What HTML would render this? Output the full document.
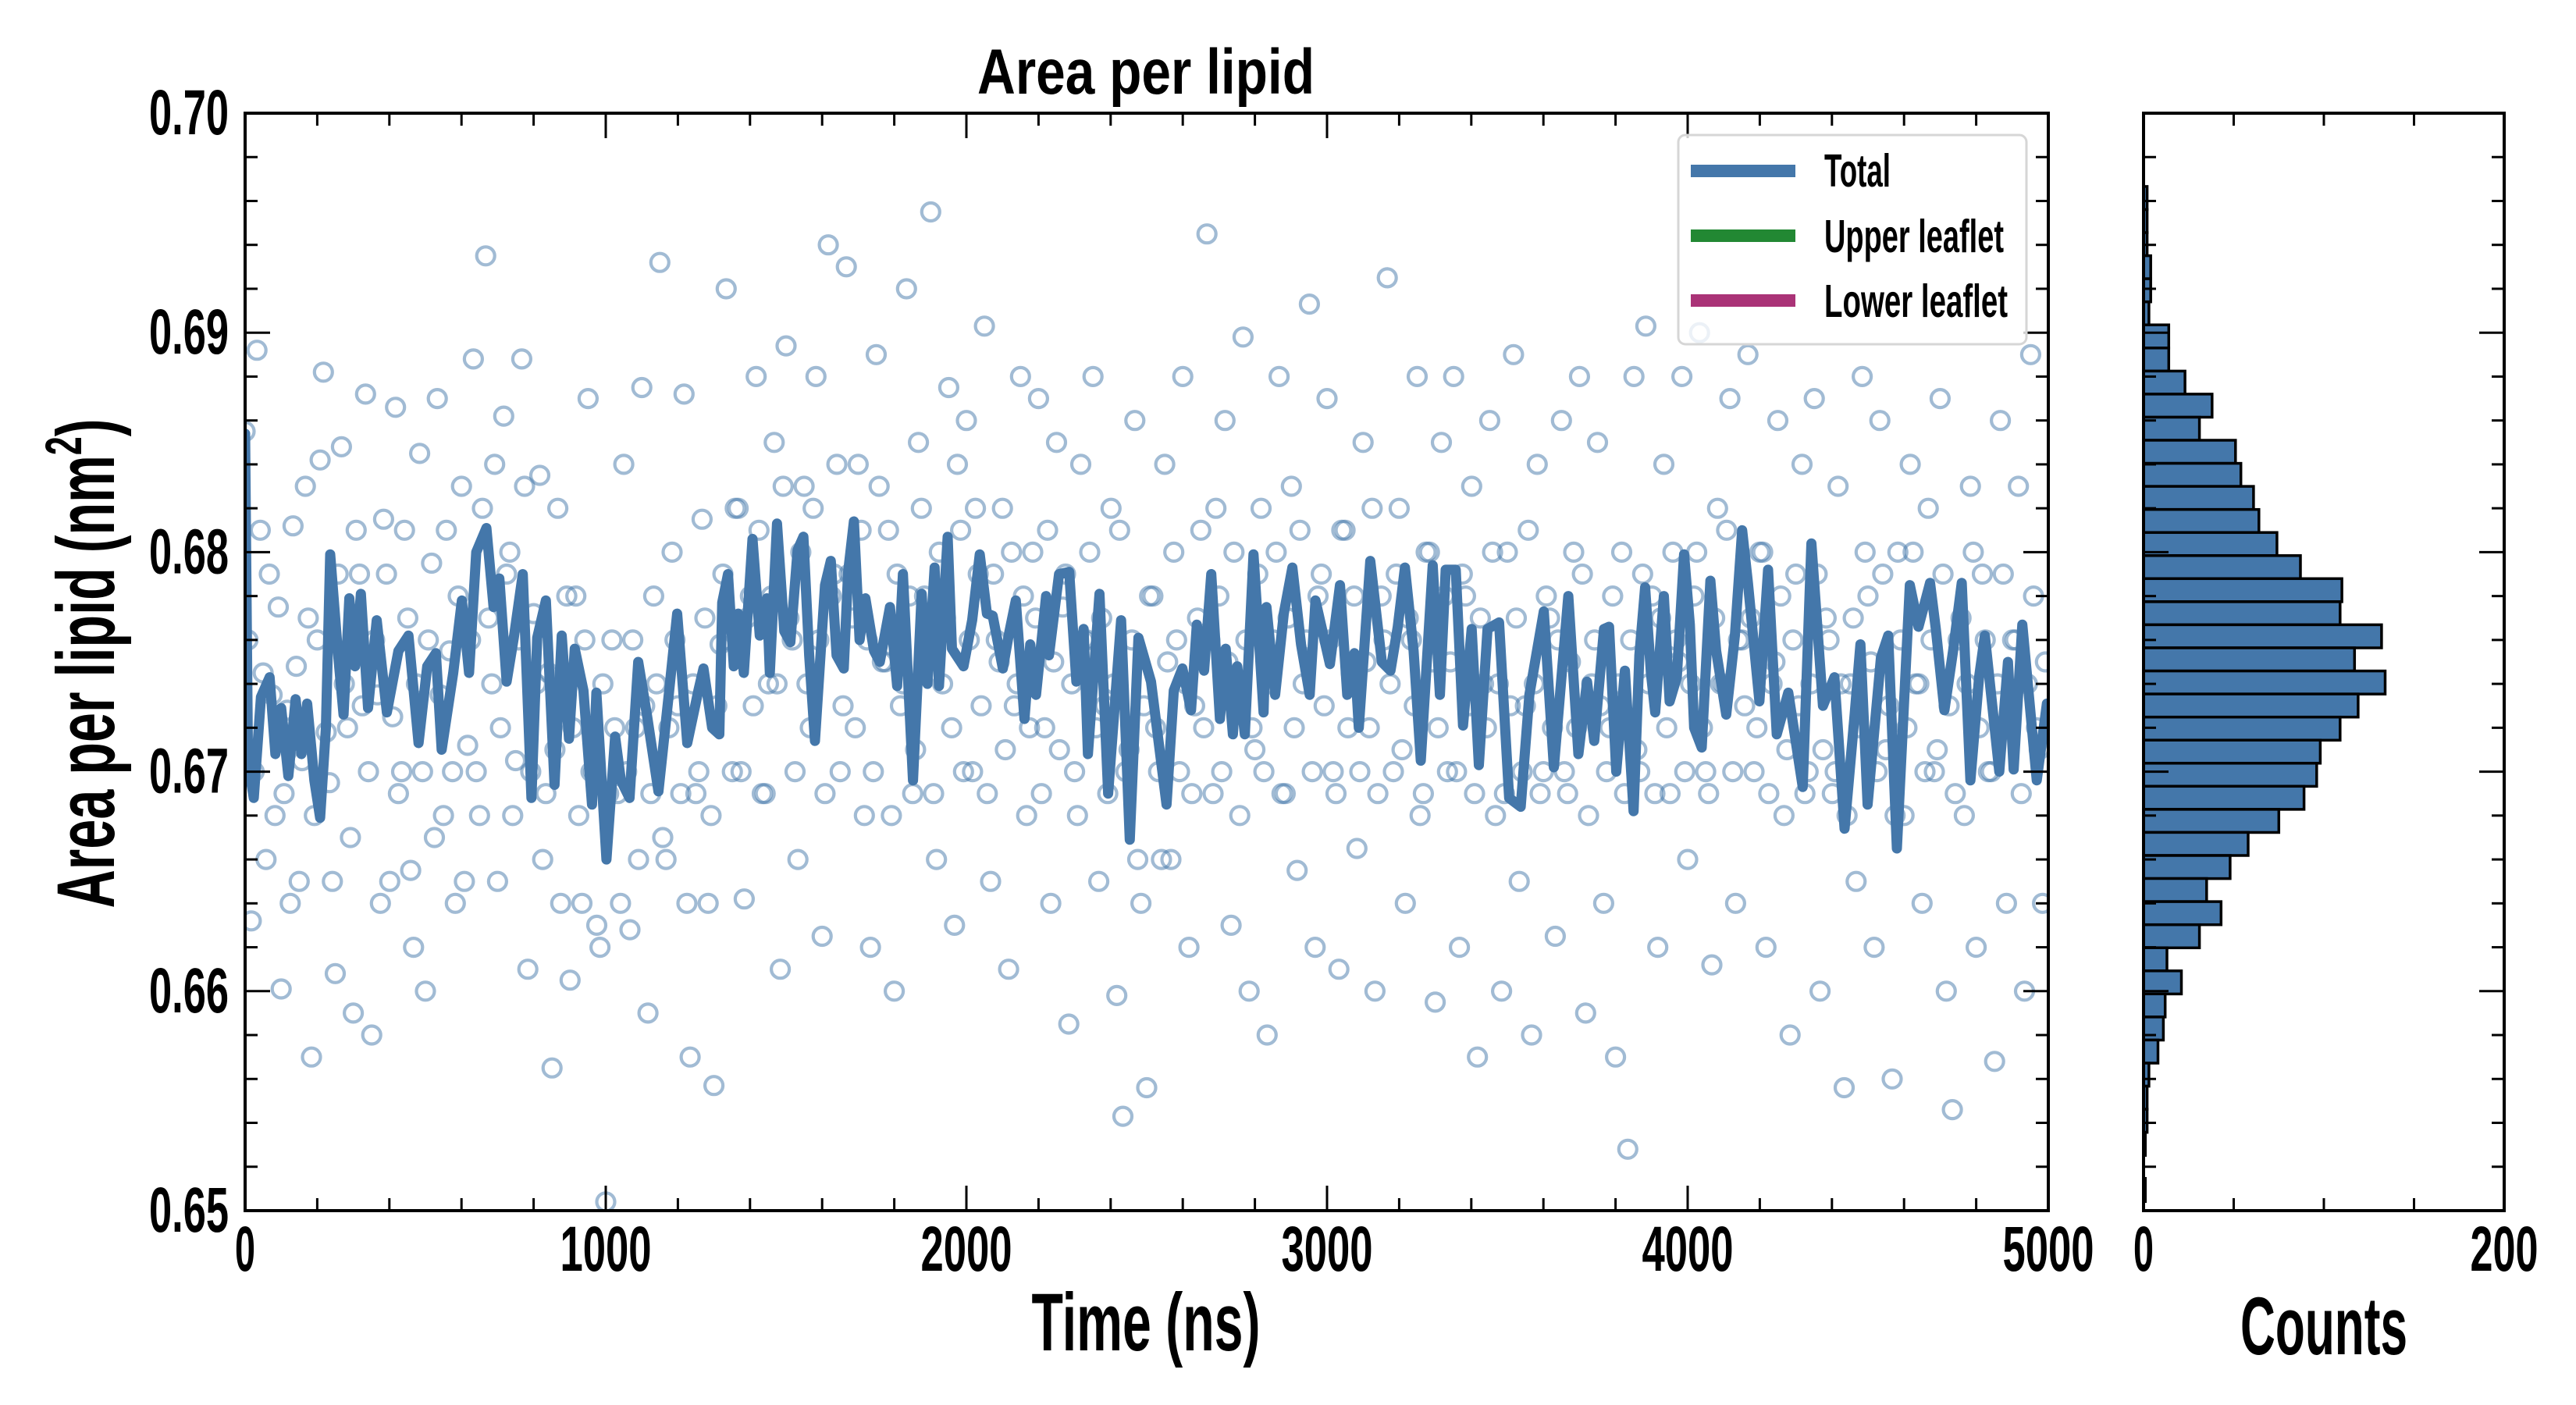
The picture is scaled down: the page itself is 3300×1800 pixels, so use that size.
<!DOCTYPE html>
<html><head><meta charset="utf-8"><title>Area per lipid</title>
<style>
html,body{margin:0;padding:0;background:#fff;}
svg{display:block;}
text{font-family:"Liberation Sans Narrow","Liberation Sans",sans-serif;font-weight:bold;fill:#000;}
</style></head>
<body>
<svg id="chart" xmlns="http://www.w3.org/2000/svg" width="3300" height="1800" viewBox="0 0 3300 1800">
  <defs>
    <clipPath id="mainClip"><rect x="314" y="145" width="2310" height="1406"/></clipPath>
  </defs>
  <rect x="0" y="0" width="3300" height="1800" fill="#fff"/>
  <g id="scatterLayer" clip-path="url(#mainClip)"></g>
  <g id="lineLayer" clip-path="url(#mainClip)"></g>
  <g id="histLayer"></g>
  <g id="axesLayer"></g>

  <text x="1468" y="120" font-size="82" text-anchor="middle" textLength="432" lengthAdjust="spacingAndGlyphs">Area per lipid</text>
  <text x="1468" y="1730" font-size="105" text-anchor="middle" textLength="293" lengthAdjust="spacingAndGlyphs">Time (ns)</text>
  <text x="2977" y="1735" font-size="105" text-anchor="middle" textLength="214" lengthAdjust="spacingAndGlyphs">Counts</text>
  <text transform="translate(146,850) rotate(-90)" x="0" y="0" font-size="105" text-anchor="middle" textLength="627" lengthAdjust="spacingAndGlyphs">Area per lipid (nm<tspan font-size="66" dy="-42">2</tspan><tspan dy="42">)</tspan></text>

  <g>
    <rect x="2150" y="173" width="446" height="268" rx="9" ry="9" fill="rgba(255,255,255,0.8)" stroke="#d6d6d6" stroke-width="3"/>
    <rect x="2166" y="211" width="134" height="16" fill="#4477AA"/>
    <text x="2337" y="239" font-size="59" textLength="85" lengthAdjust="spacingAndGlyphs">Total</text>
    <rect x="2166" y="294" width="134" height="16" fill="#228833"/>
    <text x="2337" y="323" font-size="59" textLength="230" lengthAdjust="spacingAndGlyphs">Upper leaflet</text>
    <rect x="2166" y="377" width="134" height="16" fill="#AA3377"/>
    <text x="2337" y="406" font-size="59" textLength="235" lengthAdjust="spacingAndGlyphs">Lower leaflet</text>
  </g>
</svg>
<script>
// ---------- data ----------
const lineTimes = [0,8,24,44,68,84,100,120,140,156,172,192,208,224,236,257,273,289,305,321,341,365,393,425,453,481,505,529,545,577,601,621,641,669,689,705,725,745,770,794,810,834,858,878,898,914,938,962,974,1002,1026,1042,1066,1090,1114,1146,1174,1198,1226,1257,
1271,1295,1315,1323,1339,1355,1367,1383,1407,1427,1447,1455,1475,1495,1512,1532,1548,1564,1580,1608,1624,1640,1660,1672,1688,1704,1720,1744,1760,1788,1808,1824,1852,1876,1892,1912,1924,1948,1960,1992,2016,2037,2057,2073,2101,2117,2137,2161,2177,2193,2221,2229,2257,2285,2305,2325,2337,2369,2393,2429,2453,2477,2512,
2555,2575,2599,2623,2639,2659,2679,2703,2719,2739,2751,2772,2796,2824,2832,2856,2880,2904,2928,2952,2968,3008,3036,3056,3076,3088,3120,3152,3176,3196,3216,3240,3260,3293,3313,3329,3357,3377,3401,3421,3445,3477,3505,3537,3561,3601,3629,3669,3697,3721,3741,3768,
3782,3802,3826,3850,3866,3882,3898,3910,3934,3950,3970,3990,4006,4018,4039,4063,4079,4107,4131,4151,4167,4199,4223,4247,4279,4319,4343,4375,4407,4435,4463,4479,4499,4536,4556,4580,4616,4640,4672,4688,4712,4736,4760,4784,4808,4824,4864,4888,4904,4928,4968,4996];
const lineValues = [0.6854,0.6704,0.6688,0.6734,0.6743,0.6708,0.6729,0.6698,0.6733,0.6708,0.6731,0.6696,0.6679,0.6720,0.6799,0.6755,0.6726,0.6779,0.6748,0.6781,0.6729,0.6769,0.6727,0.6755,0.6762,0.6713,0.6748,0.6754,0.6710,0.6745,0.6778,0.6745,0.6800,0.6811,0.6775,0.6788,0.6741,0.6761,0.6790,0.6688,0.6761,0.6778,0.6694,0.6762,0.6715,0.6756,0.6737,0.6685,0.6736,0.6660,0.6716,0.6696,0.6688,0.6750,0.6726,0.6691,0.6734,0.6772,0.6713,0.6737,
0.6747,0.6720,0.6717,0.6777,0.6790,0.6748,0.6772,0.6745,0.6806,0.6762,0.6779,0.6745,0.6813,0.6764,0.6759,0.6801,0.6807,0.6753,0.6714,0.6785,0.6796,0.6753,0.6747,0.6791,0.6814,0.6760,0.6779,0.6755,0.6750,0.6775,0.6739,0.6790,0.6696,0.6781,0.6740,0.6793,0.6739,0.6807,0.6756,0.6748,0.6769,0.6799,0.6772,0.6771,0.6747,0.6762,0.6778,0.6724,0.6758,0.6735,0.6780,0.6753,0.6790,0.6791,0.6741,0.6765,0.6708,0.6781,0.6690,0.6769,0.6669,0.6761,0.6741,
0.6685,0.6737,0.6747,0.6728,0.6767,0.6746,0.6790,0.6724,0.6756,0.6717,0.6748,0.6717,0.6799,0.6727,0.6775,0.6735,0.6772,0.6793,0.6758,0.6735,0.6778,0.6749,0.6785,0.6735,0.6754,0.6720,0.6796,0.6750,0.6746,0.6766,0.6793,0.6755,0.6705,0.6794,0.6735,0.6792,0.6792,0.6721,0.6765,0.6703,0.6765,0.6768,0.6688,0.6684,0.6735,0.6773,0.6702,0.6780,0.6708,0.6741,0.6714,0.6765,
0.6766,0.6700,0.6746,0.6682,0.6753,0.6784,0.6745,0.6727,0.6780,0.6732,0.6743,0.6799,0.6767,0.6720,0.6711,0.6787,0.6755,0.6726,0.6762,0.6810,0.6786,0.6732,0.6792,0.6717,0.6736,0.6693,0.6804,0.6730,0.6743,0.6674,0.6726,0.6758,0.6685,0.6752,0.6762,0.6665,0.6785,0.6766,0.6786,0.6765,0.6728,0.6755,0.6786,0.6696,0.6743,0.6762,0.6700,0.6750,0.6701,0.6767,0.6696,0.6731];

const scatterTimes = [0,17,33,50,67,83,100,117,133,150,167,184,200,217,234,250,267,284,300,317,334,351,367,384,401,417,434,451,467,484,500,517,533,550,567,583,600,617,633,650,667,684,700,717,734,750,767,784,800,817,834,851,867,884,901,917,934,951,967,984,
1000,1017,1033,1050,1067,1083,1100,1117,1133,1150,1167,1184,1200,1217,1234,1250,1267,1284,1300,1317,1334,1351,1367,1384,1401,1417,1434,1451,1467,1484,1500,1517,1533,1550,1567,1583,1600,1617,1633,1650,1667,1684,1700,1717,1734,1750,1767,1784,1800,1817,1834,1851,1867,1884,1901,1917,1934,1951,1967,1984,
2000,2017,2033,2050,2067,2083,2100,2117,2133,2150,2167,2184,2200,2217,2234,2250,2267,2284,2300,2317,2334,2351,2367,2384,2401,2417,2434,2451,2467,2484,2500,2517,2533,2550,2567,2583,2600,2617,2633,2650,2667,2684,2700,2717,2734,2750,2767,2784,2800,2817,2834,2851,2867,2884,2901,2917,2934,2951,2967,2984,
3000,3017,3033,3050,3067,3083,3100,3117,3133,3150,3167,3184,3200,3217,3234,3250,3267,3284,3300,3317,3334,3351,3367,3384,3401,3417,3434,3451,3467,3484,3500,3517,3533,3550,3567,3583,3600,3617,3633,3650,3667,3684,3700,3717,3734,3750,3767,3784,3800,3817,3834,3851,3867,3884,3901,3917,3934,3951,3967,3984,
4000,4017,4033,4050,4067,4083,4100,4117,4133,4150,4167,4184,4200,4217,4234,4250,4267,4284,4300,4317,4334,4351,4367,4384,4401,4417,4434,4451,4467,4484,4500,4517,4533,4550,4567,4583,4600,4617,4633,4650,4667,4684,4700,4717,4734,4750,4767,4784,4800,4817,4834,4851,4867,4884,4901,4917,4934,4951,4967,4984];
const scatterValues = [0.6855,0.6632,0.6892,0.6745,0.6790,0.6680,0.6601,0.6728,0.6812,0.6650,
0.6830,0.6570,0.6760,0.6882,0.6695,0.6608,0.6848,0.6720,0.6590,0.6790,
0.6872,0.6580,0.6735,0.6815,0.6650,0.6866,0.6700,0.6770,0.6620,0.6845,
0.6600,0.6795,0.6870,0.6680,0.6755,0.6640,0.6830,0.6712,0.6888,0.6680,
0.6935,0.6740,0.6650,0.6862,0.6800,0.6705,0.6888,0.6610,0.6772,0.6835,
0.6690,0.6565,0.6820,0.6745,0.6605,0.6780,0.6640,0.6870,0.6700,0.6620,
0.6504,0.6760,0.6690,0.6840,0.6628,0.6720,0.6875,0.6590,0.6780,0.6932,
0.6660,0.6800,0.6730,0.6872,0.6570,0.6690,0.6815,0.6640,0.6557,0.6758,
0.6920,0.6700,0.6820,0.6642,0.6780,0.6880,0.6690,0.6740,0.6850,0.6610,
0.6894,0.6760,0.6660,0.6830,0.6720,0.6880,0.6625,0.6940,0.6790,0.6700,
0.6930,0.6770,0.6840,0.6680,0.6620,0.6890,0.6750,0.6810,0.6600,0.6730,
0.6920,0.6690,0.6850,0.6780,0.6955,0.6660,0.6740,0.6875,0.6630,0.6810,
0.6860,0.6700,0.6790,0.6903,0.6650,0.6760,0.6820,0.6610,0.6730,0.6880,
0.6680,0.6800,0.6870,0.6720,0.6640,0.6850,0.6775,0.6585,0.6700,0.6840,
0.6760,0.6880,0.6650,0.6730,0.6820,0.6598,0.6543,0.6710,0.6860,0.6640,
0.6556,0.6780,0.6700,0.6840,0.6660,0.6760,0.6880,0.6620,0.6730,0.6810,
0.6945,0.6690,0.6780,0.6860,0.6630,0.6740,0.6898,0.6600,0.6710,0.6820,
0.6580,0.6760,0.6880,0.6690,0.6830,0.6655,0.6740,0.6913,0.6620,0.6790,
0.6870,0.6700,0.6610,0.6810,0.6745,0.6665,0.6850,0.6720,0.6600,0.6780,
0.6925,0.6700,0.6820,0.6640,0.6760,0.6880,0.6690,0.6800,0.6595,0.6850,
0.6700,0.6880,0.6620,0.6780,0.6830,0.6570,0.6740,0.6860,0.6680,0.6600,
0.6800,0.6890,0.6650,0.6730,0.6580,0.6840,0.6700,0.6770,0.6625,0.6860,
0.6690,0.6800,0.6880,0.6590,0.6740,0.6850,0.6640,0.6720,0.6570,0.6800,
0.6528,0.6880,0.6700,0.6903,0.6780,0.6620,0.6840,0.6690,0.6760,0.6880,
0.6660,0.6780,0.6900,0.6700,0.6612,0.6820,0.6740,0.6870,0.6640,0.6760,
0.6890,0.6700,0.6800,0.6620,0.6740,0.6860,0.6680,0.6580,0.6790,0.6840,
0.6700,0.6870,0.6600,0.6770,0.6690,0.6830,0.6556,0.6740,0.6650,0.6880,
0.6780,0.6620,0.6860,0.6710,0.6560,0.6800,0.6680,0.6840,0.6740,0.6640,
0.6820,0.6700,0.6870,0.6600,0.6546,0.6760,0.6680,0.6830,0.6620,0.6790,
0.6700,0.6568,0.6860,0.6640,0.6760,0.6830,0.6600,0.6890,0.6720,0.6640];

// second sampled set of raw frames (interleaved times)
const scatterTimes2 = [8,25,42,58,75,92,108,125,142,158,175,192,208,225,242,258,275,292,308,325,342,359,375,392,409,425,442,459,475,492,508,525,541,558,575,591,608,625,641,658,675,692,708,725,742,758,775,792,808,825,842,859,875,892,909,925,942,959,975,992,
1008,1025,1041,1058,1075,1091,1108,1125,1141,1158,1175,1192,1208,1225,1242,1258,1275,1292,1308,1325,1342,1359,1375,1392,1409,1425,1442,1459,1475,1492,1508,1525,1541,1558,1575,1591,1608,1625,1641,1658,1675,1692,1708,1725,1742,1758,1775,1792,1808,1825,1842,1859,1875,1892,1909,1925,1942,1959,1975,1992,
2008,2025,2041,2058,2075,2091,2108,2125,2141,2158,2175,2192,2208,2225,2242,2258,2275,2292,2308,2325,2342,2359,2375,2392,2409,2425,2442,2459,2475,2492,2508,2525,2541,2558,2575,2591,2608,2625,2641,2658,2675,2692,2708,2725,2742,2758,2775,2792,2808,2825,2842,2859,2875,2892,2909,2925,2942,2959,2975,2992,
3008,3025,3041,3058,3075,3091,3108,3125,3141,3158,3175,3192,3208,3225,3242,3258,3275,3292,3308,3325,3342,3359,3375,3392,3409,3425,3442,3459,3475,3492,3508,3525,3541,3558,3575,3591,3608,3625,3641,3658,3675,3692,3708,3725,3742,3758,3775,3792,3808,3825,3842,3859,3875,3892,3909,3925,3942,3959,3975,3992,
4008,4025,4041,4058,4075,4091,4108,4125,4141,4158,4175,4192,4208,4225,4242,4258,4275,4292,4308,4325,4342,4359,4375,4392,4409,4425,4442,4459,4475,4492,4508,4525,4541,4558,4575,4591,4608,4625,4641,4658,4675,4692,4708,4725,4742,4758,4775,4792,4808,4825,4842,4859,4875,4892,4909,4925,4942,4959,4975,4992];
const scatterValues2 = [0.6760,0.6700,0.6810,0.6660,0.6735,0.6775,0.6690,0.6640,0.6748,0.6705,
0.6770,0.6680,0.6842,0.6718,0.6650,0.6790,0.6740,0.6670,0.6810,0.6730,
0.6700,0.6760,0.6640,0.6790,0.6725,0.6690,0.6810,0.6655,0.6740,0.6700,
0.6760,0.6670,0.6735,0.6810,0.6700,0.6780,0.6650,0.6760,0.6700,0.6820,
0.6770,0.6840,0.6720,0.6790,0.6680,0.6760,0.6830,0.6700,0.6740,0.6660,
0.6745,0.6710,0.6640,0.6780,0.6720,0.6680,0.6760,0.6700,0.6630,0.6740,
0.6690,0.6720,0.6640,0.6700,0.6760,0.6660,0.6730,0.6690,0.6740,0.6670,
0.6720,0.6760,0.6690,0.6640,0.6740,0.6700,0.6770,0.6680,0.6730,0.6790,
0.6760,0.6820,0.6700,0.6770,0.6730,0.6810,0.6690,0.6780,0.6740,0.6830,
0.6770,0.6700,0.6800,0.6740,0.6820,0.6760,0.6690,0.6780,0.6840,0.6730,
0.6790,0.6720,0.6810,0.6760,0.6700,0.6830,0.6750,0.6680,0.6790,0.6740,
0.6780,0.6710,0.6820,0.6750,0.6690,0.6800,0.6770,0.6720,0.6840,0.6700,
0.6760,0.6820,0.6730,0.6690,0.6790,0.6750,0.6710,0.6800,0.6740,0.6780,
0.6720,0.6770,0.6690,0.6810,0.6750,0.6710,0.6790,0.6740,0.6680,0.6760,
0.6800,0.6720,0.6770,0.6690,0.6740,0.6810,0.6700,0.6760,0.6660,0.6730,
0.6780,0.6720,0.6660,0.6750,0.6800,0.6700,0.6740,0.6690,0.6770,0.6720,
0.6760,0.6820,0.6700,0.6750,0.6800,0.6680,0.6760,0.6720,0.6790,0.6700,
0.6740,0.6800,0.6690,0.6770,0.6720,0.6810,0.6760,0.6700,0.6780,0.6730,
0.6760,0.6690,0.6810,0.6720,0.6780,0.6700,0.6750,0.6820,0.6690,0.6760,
0.6740,0.6790,0.6710,0.6770,0.6730,0.6680,0.6800,0.6750,0.6720,0.6780,
0.6750,0.6700,0.6790,0.6730,0.6690,0.6770,0.6720,0.6800,0.6740,0.6690,
0.6730,0.6770,0.6700,0.6810,0.6740,0.6690,0.6780,0.6720,0.6760,0.6700,
0.6750,0.6720,0.6790,0.6680,0.6760,0.6730,0.6700,0.6780,0.6740,0.6690,
0.6760,0.6710,0.6790,0.6740,0.6690,0.6770,0.6720,0.6800,0.6750,0.6700,
0.6740,0.6800,0.6720,0.6690,0.6770,0.6740,0.6810,0.6700,0.6760,0.6730,
0.6770,0.6720,0.6800,0.6690,0.6750,0.6780,0.6710,0.6760,0.6730,0.6690,
0.6740,0.6790,0.6710,0.6760,0.6700,0.6740,0.6680,0.6770,0.6720,0.6800,
0.6750,0.6700,0.6790,0.6730,0.6680,0.6760,0.6720,0.6800,0.6740,0.6700,
0.6760,0.6710,0.6790,0.6730,0.6690,0.6770,0.6740,0.6800,0.6720,0.6760,
0.6700,0.6740,0.6790,0.6720,0.6760,0.6690,0.6740,0.6780,0.6710,0.6750];

// histogram: counts listed from the highest bin down to the lowest
const histCounts = [2,2,2,4,4,3,14,14,23,38,31,51,54,61,64,74,87,110,109,132,117,134,119,109,98,96,89,75,58,48,35,43,31,13,21,12,11,8,3,2,2,1,0,1];
const histTopEdge = 0.69666;
const histBinWidth = 0.001051;

const xTicksMain = [0,1000,2000,3000,4000,5000];
const xTickLabelsMain = ["0","1000","2000","3000","4000","5000"];
const yTicks = [0.65,0.66,0.67,0.68,0.69,0.70];
const yTickLabels = ["0.65","0.66","0.67","0.68","0.69","0.70"];
const histXTicks = [0,200];
const histXTickLabels = ["0","200"];

// ---------- scales ----------
const M = {l:314, r:2624, t:145, b:1551};
const H = {l:2746, r:3208};
const X0 = 0, X1 = 5000, Y0 = 0.65, Y1 = 0.70, C1 = 200;
function xT(t){ return M.l + (t - X0) / (X1 - X0) * (M.r - M.l); }
function yV(v){ return M.t + (Y1 - v) / (Y1 - Y0) * (M.b - M.t); }
function xC(c){ return H.l + c / C1 * (H.r - H.l); }

const NS = "http://www.w3.org/2000/svg";
function mk(tag, attrs, parent){
  const e = document.createElementNS(NS, tag);
  for (const k in attrs) e.setAttribute(k, attrs[k]);
  parent.appendChild(e);
  return e;
}

// scatter
const sc = document.getElementById('scatterLayer');
function drawScatter(ts, vs){
  for (let i = 0; i < vs.length; i++){
    const c = mk('circle', {cx: xT(ts[i]).toFixed(1), cy: yV(vs[i]).toFixed(1), r: 11.5, fill: 'none', stroke: 'rgba(68,119,170,0.5)', 'stroke-width': 4.2}, sc);
    
    
  }
}
drawScatter(scatterTimes, scatterValues);
drawScatter(scatterTimes2, scatterValues2);

// running line
const ll = document.getElementById('lineLayer');
let d = '';
for (let i = 0; i < lineValues.length; i++){
  d += (i ? 'L' : 'M') + xT(lineTimes[i]).toFixed(1) + ',' + yV(lineValues[i]).toFixed(1);
}
const path = mk('path', {d: d, fill: 'none', stroke: '#4477AA', 'stroke-width': 13, 'stroke-linejoin': 'round', 'stroke-linecap': 'round'}, ll);



// histogram
const hl = document.getElementById('histLayer');
for (let i = 0; i < histCounts.length; i++){
  if (histCounts[i] <= 0) continue;
  const hi = histTopEdge - i * histBinWidth, lo = hi - histBinWidth;
  const y1 = yV(hi), y2 = yV(lo);
  const b = mk('rect', {x: H.l, y: y1.toFixed(1), width: (xC(histCounts[i]) - H.l).toFixed(1), height: (y2 - y1).toFixed(1), fill: '#4477AA', stroke: '#000', 'stroke-width': 3.5}, hl);
  
  
}

// axes, ticks
const ax = document.getElementById('axesLayer');
function line(x1,y1,x2,y2,w,name){
  const l = mk('line', {x1:x1, y1:y1, x2:x2, y2:y2, stroke:'#000', 'stroke-width':w}, ax);
  
  
}
function label(x,y,txt,anchor,len,name){
  const t = mk('text', {x:x, y:y, 'font-size':82, 'text-anchor':anchor, textLength:len, lengthAdjust:'spacingAndGlyphs'}, ax);
  t.textContent = txt;
  
  
}
const MAJ = 32, MIN = 16, TW = 3;
for (let t = X0; t <= X1 + 1e-9; t += 200){
  const major = Math.abs(t % 1000) < 1e-6;
  const x = xT(t), L = major ? MAJ : MIN;
  line(x, M.b, x, M.b - L, TW, 'x-tick');
  line(x, M.t, x, M.t + L, TW, 'x-tick-top');
}
xTicksMain.forEach((t, i) => {
  const s = xTickLabelsMain[i];
  label(xT(t), 1628, s, 'middle', s.length === 1 ? 26 : 117, 'x-tick-label');
});
for (let k = 0; k <= 25; k++){
  const v = Y0 + k * 0.002;
  const major = k % 5 === 0;
  const y = yV(v), L = major ? MAJ : MIN;
  line(M.l, y, M.l + L, y, TW, 'y-tick');
  line(M.r, y, M.r - L, y, TW, 'y-tick-right');
  line(H.l, y, H.l + L, y, TW, 'hist-y-tick');
  line(H.r, y, H.r - L, y, TW, 'hist-y-tick-right');
}
yTicks.forEach((v, i) => {
  label(293, yV(v) + 27, yTickLabels[i], 'end', 102, 'y-tick-label');
});
for (let c = 0; c <= C1; c += 50){
  const major = c === 0 || c === C1;
  const x = xC(c), L = major ? MAJ : MIN;
  line(x, M.b, x, M.b - L, TW, 'hist-x-tick');
  line(x, M.t, x, M.t + L, TW, 'hist-x-tick-top');
}
histXTicks.forEach((c, i) => {
  const s = histXTickLabels[i];
  label(xC(c), 1628, s, 'middle', s.length === 1 ? 26 : 87, 'hist-x-tick-label');
});
const sp1 = mk('rect', {x:M.l, y:M.t, width:M.r-M.l, height:M.b-M.t, fill:'none', stroke:'#000', 'stroke-width':4}, ax);


const sp2 = mk('rect', {x:H.l, y:M.t, width:H.r-H.l, height:M.b-M.t, fill:'none', stroke:'#000', 'stroke-width':4}, ax);


</script>
</body></html>
